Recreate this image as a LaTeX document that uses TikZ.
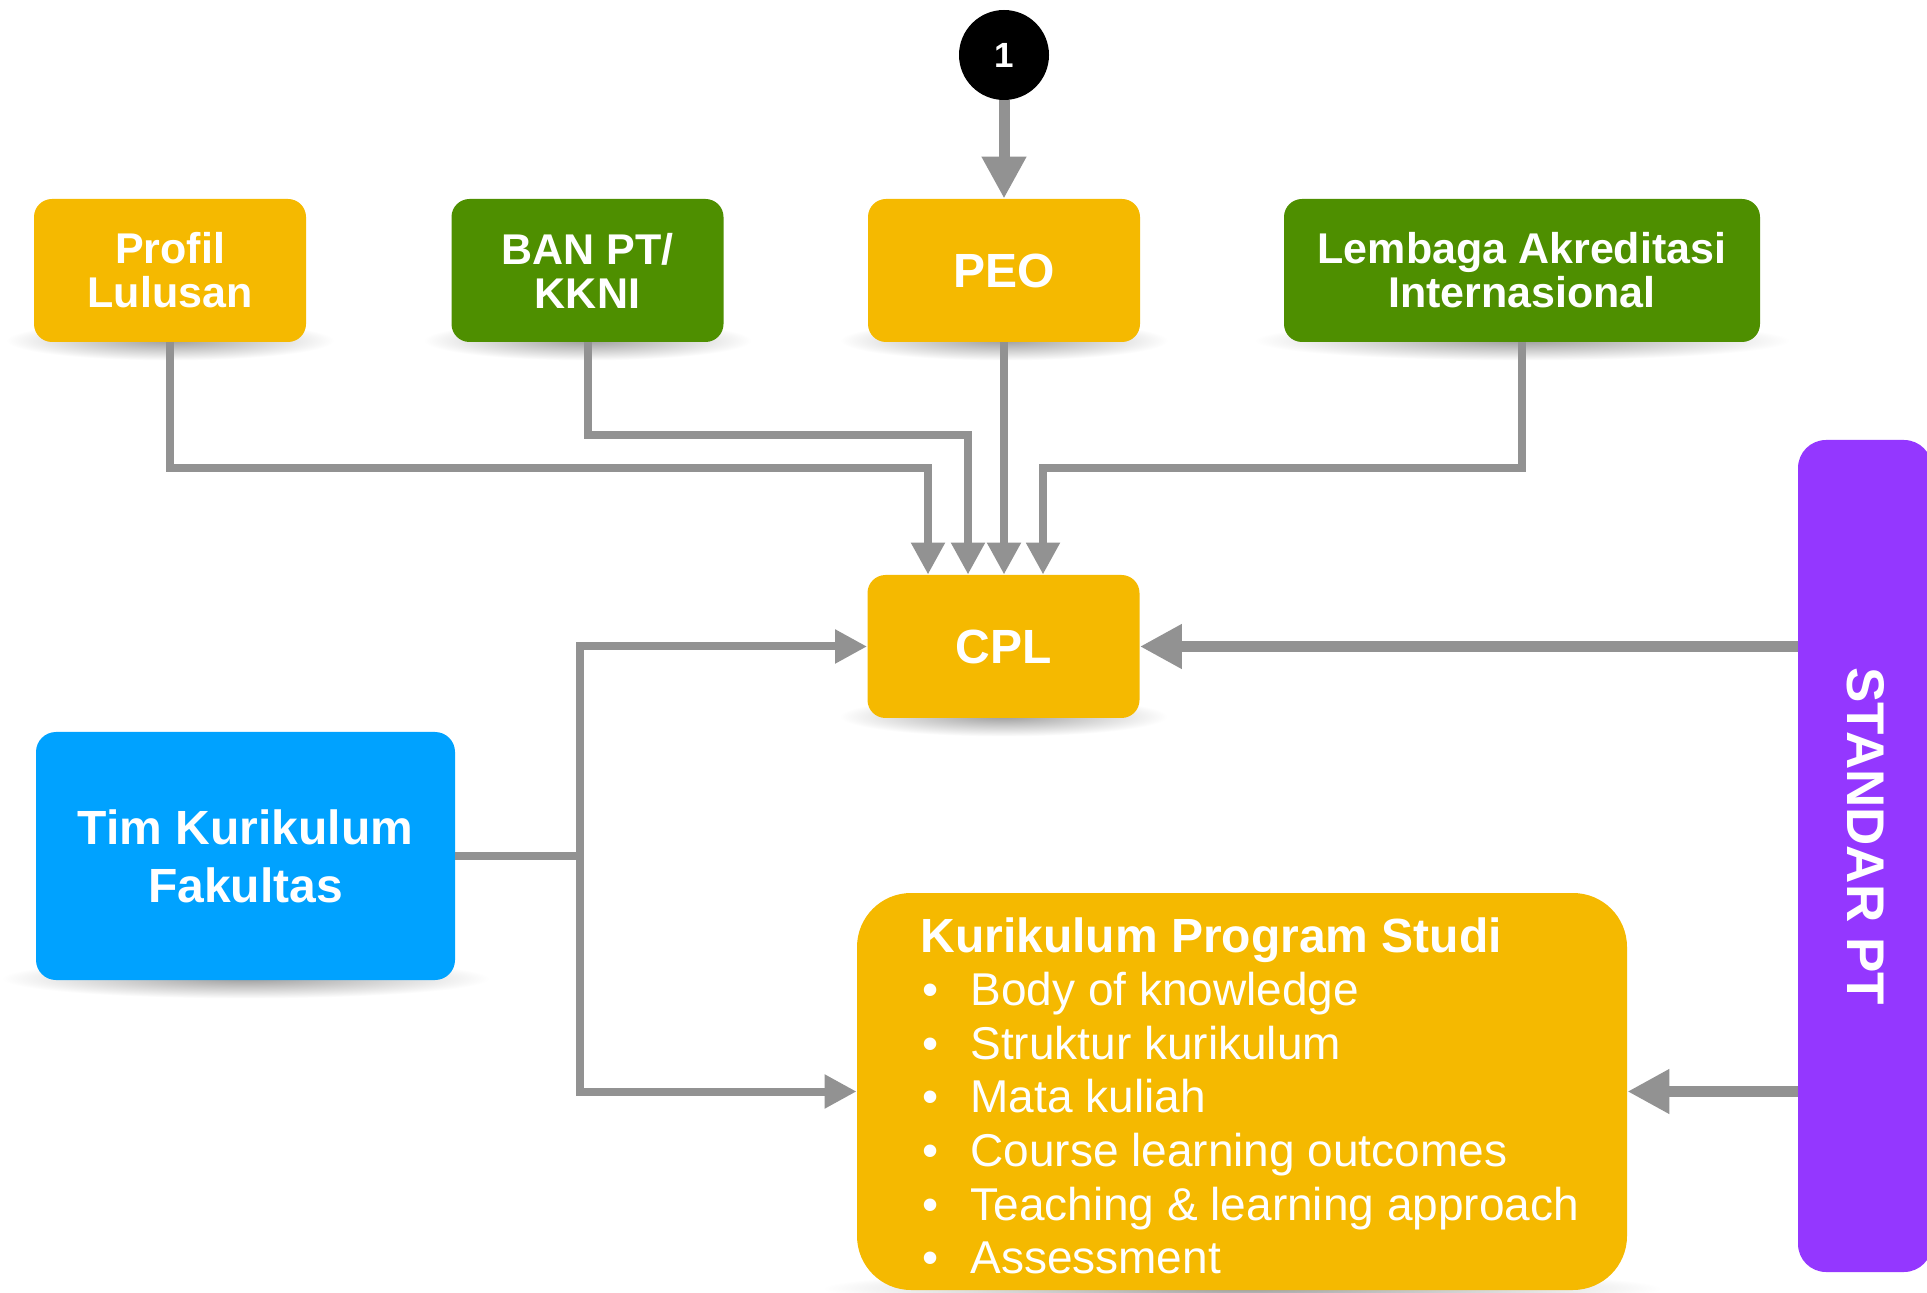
\documentclass[tikz,border=0pt]{standalone}
\usepackage{fontspec}
\setmainfont{Liberation Sans}
\usetikzlibrary{arrows.meta,calc}
\definecolor{kyellow}{HTML}{F5B900}
\definecolor{kgreen}{HTML}{4E8F00}
\definecolor{kblue}{HTML}{00A2FF}
\definecolor{kpurple}{HTML}{9437FF}
\definecolor{kgrey}{HTML}{929292}
\pgfdeclarelayer{back}
\pgfdeclarelayer{bg}
\pgfsetlayers{back,bg,main}
\newcommand{\kfs}[2]{\fontsize{#1}{#2}\selectfont}
\newcommand{\kshadow}[2]{\begin{pgfonlayer}{bg}\shade[inner color=black!38,outer color=white] ($(#1.south)+(0,-2)$) ellipse [x radius=#2, y radius=10pt];\end{pgfonlayer}}
\begin{document}
\begin{tikzpicture}[x=0.5pt,y=-0.5pt,
  box/.style={rectangle, rounded corners=9pt, text=white, align=center, inner sep=0pt,
    minimum width=136pt, minimum height=71.5pt, font=\kfs{21.5pt}{22pt}\bfseries},
  bigfont/.style={font=\kfs{24pt}{26pt}\bfseries},
  conn/.style={draw=kgrey, line width=4pt},
  arr/.style={conn, -{Triangle[length=16pt,width=16pt]}},
  bigarr/.style={draw=kgrey, line width=5.5pt, -{Triangle[length=21pt,width=21pt]}},
  itemline/.style={anchor=base west, inner sep=0pt, text=white, font=\kfs{23pt}{27pt}}
]
\begin{pgfonlayer}{back}
\fill[white] (0,0) rectangle (1927,1293);
\end{pgfonlayer}
\useasboundingbox (0,0) rectangle (1927,1293);

% nodes
\node[circle, fill=black, minimum size=45pt, inner sep=0pt, text=white, font=\kfs{17.5pt}{20pt}\bfseries] (one) at (1004,55) {1};
\node[box, fill=kyellow] (profil) at (170,270.5) {Profil\\Lulusan};
\node[box, fill=kgreen] (ban) at (587.5,270.5) {BAN PT/\\KKNI};
\node[box, fill=kyellow, bigfont] (peo) at (1004,270.5) {PEO};
\node[box, fill=kgreen, minimum width=238pt] (lem) at (1522,270.5) {Lembaga Akreditasi\\Internasional};
\node[box, fill=kyellow, bigfont] (cpl) at (1003.5,646.5) {CPL};
\node[box, fill=kblue, minimum width=209.5pt, minimum height=124pt, rounded corners=10pt,
  font=\kfs{24pt}{29pt}\bfseries] (tim) at (245.5,856) {Tim Kurikulum\\Fakultas};
\node[fill=kyellow, rounded corners=27pt, minimum width=385pt, minimum height=198.5pt, inner sep=0pt] (kps) at (1242,1091.5) {};
\node[fill=kpurple, rounded corners=14pt, minimum width=67pt, minimum height=416pt, inner sep=0pt] (std) at (1865,856) {};
\node[rotate=-90, text=white, inner sep=0pt, font=\kfs{26.5pt}{30pt}\bfseries] (stdtext) at (1866,836) {STANDAR PT};

% curriculum text
\node[anchor=base west, inner sep=0pt, text=white, font=\kfs{24pt}{27pt}\bfseries] (kpst) at (920,952) {Kurikulum Program Studi};
\node[itemline] (kps1) at (920,1005.6) {\makebox[25pt][l]{\hspace{1pt}•}Body of knowledge};
\node[itemline] (kps2) at (920,1059.2) {\makebox[25pt][l]{\hspace{1pt}•}Struktur kurikulum};
\node[itemline] (kps3) at (920,1112.8) {\makebox[25pt][l]{\hspace{1pt}•}Mata kuliah};
\node[itemline] (kps4) at (920,1166.4) {\makebox[25pt][l]{\hspace{1pt}•}Course learning outcomes};
\node[itemline] (kps5) at (920,1220.0) {\makebox[25pt][l]{\hspace{1pt}•}Teaching \& learning approach};
\node[itemline] (kps6) at (920,1273.6) {\makebox[25pt][l]{\hspace{1pt}•}Assessment};

% shadows
\kshadow{profil}{82pt}
\kshadow{ban}{82pt}
\kshadow{peo}{82pt}
\kshadow{lem}{134pt}
\kshadow{cpl}{82pt}
\kshadow{tim}{122pt}
\kshadow{kps}{210pt}

% connectors
\coordinate (c1) at (928,468);
\coordinate (c2) at (968,435);
\coordinate (c4) at (1043,468);
\coordinate (j) at (580,856);
\draw[bigarr] (one.south) -- (peo.north);
\draw[arr] (profil.south) |- (c1) -- (c1 |- cpl.north);
\draw[arr] (ban.south) |- (c2) -- (c2 |- cpl.north);
\draw[arr] (peo.south) -- (peo.south |- cpl.north);
\draw[arr] (lem.south) |- (c4) -- (c4 |- cpl.north);
\draw[conn] (tim.east) -- (j);
\draw[arr] (j) |- (cpl.west);
\draw[arr] (j) |- (kps.west);
\draw[bigarr] (std.west |- cpl.east) -- (cpl.east);
\draw[bigarr] (std.west |- kps.east) -- (kps.east);
\end{tikzpicture}
\end{document}
